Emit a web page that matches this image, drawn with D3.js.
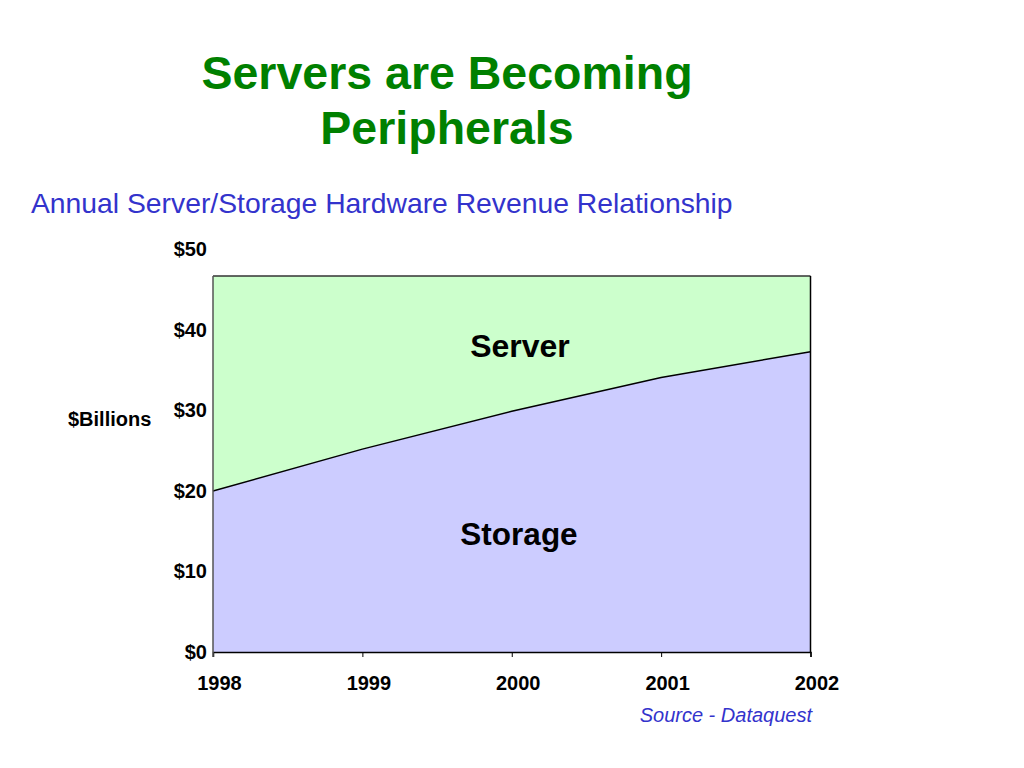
<!DOCTYPE html>
<html>
<head>
<meta charset="utf-8">
<script src="https://cdn.jsdelivr.net/npm/d3@7"></script>
<style>
  html, body { margin: 0; padding: 0; background: #fff; }
  svg { display: block; font-family: "Liberation Sans", Arial, sans-serif; }
</style>
</head>
<body>
<svg id="chart" width="1024" height="768"></svg>
<script>
const years = [1998, 1999, 2000, 2001, 2002];
const storage = [20.0, 25.2, 29.9, 34.1, 37.3];
const server = [26.7, 21.5, 16.8, 12.6, 9.4];
const yTicks = [0, 10, 20, 30, 40, 50];
const yTickLabels = ["$0", "$10", "$20", "$30", "$40", "$50"];
const seriesNames = ["Storage", "Server"];

const svg = d3.select("#chart");

const x = d3.scaleLinear().domain([1998, 2002]).range([213, 810.5]);
const y = d3.scaleLinear().domain([0, 50]).range([652, 249.5]);

// Title
svg.append("text")
  .attr("x", 447).attr("y", 89)
  .attr("text-anchor", "middle")
  .attr("font-size", 46.5).attr("font-weight", "bold")
  .attr("fill", "#008000")
  .text("Servers are Becoming");
svg.append("text")
  .attr("x", 447).attr("y", 144)
  .attr("text-anchor", "middle")
  .attr("font-size", 46.5).attr("font-weight", "bold")
  .attr("fill", "#008000")
  .text("Peripherals");

// Subtitle
svg.append("text")
  .attr("x", 31).attr("y", 213)
  .attr("font-size", 28.3)
  .attr("fill", "#3333CC")
  .text("Annual Server/Storage Hardware Revenue Relationship");

// Data table
const table = years.map((yr, i) => ({ year: yr, Storage: storage[i], Server: server[i] }));
const layers = d3.stack().keys(seriesNames)(table);

const colors = { Storage: "#CCCCFF", Server: "#CCFFCC" };

const area = d3.area()
  .x(d => x(d.data.year))
  .y0(d => y(d[0]))
  .y1(d => y(d[1]));

svg.append("g").selectAll("path")
  .data(layers)
  .join("path")
  .attr("d", area)
  .attr("fill", d => colors[d.key]);

// boundary line between storage and server
svg.append("path")
  .datum(layers[0])
  .attr("d", d3.line().x(d => x(d.data.year)).y(d => y(d[1])))
  .attr("fill", "none")
  .attr("stroke", "#000")
  .attr("stroke-width", 1.5);

// top border of server area and right edge
const topY = y(d3.max(layers[1], d => d[1]));
svg.append("path")
  .datum(layers[1])
  .attr("d", d3.line().x(d => x(d.data.year)).y(d => y(d[1])))
  .attr("fill", "none")
  .attr("stroke", "#333")
  .attr("stroke-width", 1.5);
svg.append("line")
  .attr("x1", x(2002)).attr("x2", x(2002))
  .attr("y1", y(table[4].Storage + table[4].Server)).attr("y2", y(0))
  .attr("stroke", "#000").attr("stroke-width", 1.5);

// X axis
const gx = svg.append("g")
  .attr("transform", `translate(0,${y(0)})`)
  .call(d3.axisBottom(x).tickValues(years).tickSize(5).tickFormat(d3.format("d")));
gx.select(".domain").attr("stroke", "#000").attr("stroke-width", 1.5);
gx.selectAll(".tick line").attr("stroke", "#000");
gx.selectAll(".tick text")
  .attr("font-family", "Liberation Sans, Arial, sans-serif")
  .attr("font-size", 20).attr("font-weight", "bold")
  .attr("fill", "#000")
  .attr("x", 6).attr("y", 0).attr("dy", 38);

// Y axis (labels only) + left line
const gy = svg.append("g")
  .attr("transform", `translate(${x(1998)},0)`)
  .call(d3.axisLeft(y).tickValues(yTicks).tickSize(0).tickPadding(6)
    .tickFormat((d, i) => yTickLabels[i]));
gy.select(".domain").remove();
gy.selectAll(".tick text")
  .attr("font-family", "Liberation Sans, Arial, sans-serif")
  .attr("font-size", 20).attr("font-weight", "bold")
  .attr("fill", "#000");
svg.append("line")
  .attr("x1", x(1998)).attr("x2", x(1998))
  .attr("y1", topY).attr("y2", y(0) + 5)
  .attr("stroke", "#555").attr("stroke-width", 1.5);

// $Billions label
svg.append("text")
  .attr("x", 68).attr("y", 426)
  .attr("font-size", 20).attr("font-weight", "bold")
  .attr("fill", "#000")
  .text("$Billions");

// Area labels
svg.append("text")
  .attr("x", 520).attr("y", 357)
  .attr("text-anchor", "middle")
  .attr("font-size", 32).attr("font-weight", "bold")
  .attr("fill", "#000")
  .text("Server");
svg.append("text")
  .attr("x", 519).attr("y", 545)
  .attr("text-anchor", "middle")
  .attr("font-size", 31.5).attr("font-weight", "bold")
  .attr("fill", "#000")
  .text("Storage");

// Source
svg.append("text")
  .attr("x", 812).attr("y", 722)
  .attr("text-anchor", "end")
  .attr("font-size", 20).attr("font-style", "italic")
  .attr("fill", "#3333CC")
  .text("Source - Dataquest");
</script>
</body>
</html>
